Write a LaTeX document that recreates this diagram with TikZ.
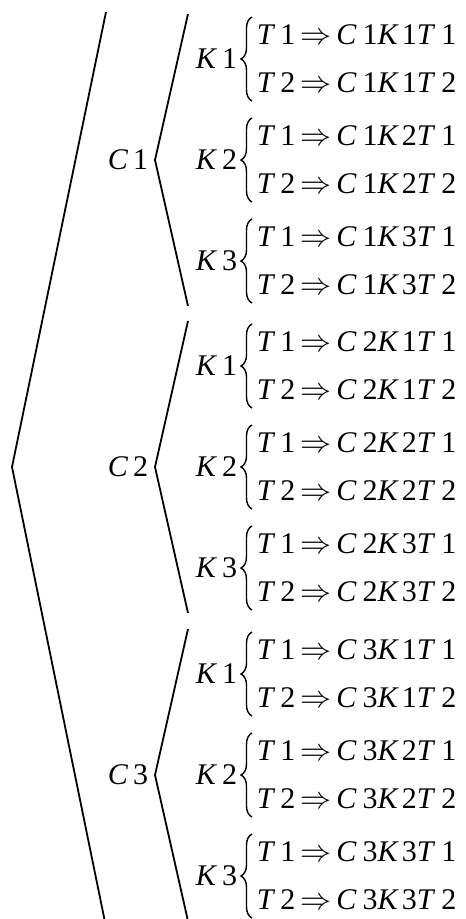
\documentclass[tikz,border=0pt]{standalone}
\usepackage{fontspec}
\setmainfont{Liberation Serif}
\usetikzlibrary{decorations.pathreplacing}
\newcommand\vi[1]{\textit{#1}}
\newcommand\imp{\scalebox{3.1}{\fontsize{10}{12}\selectfont$\Rightarrow$}}
\newcommand\rowtext[3]{\vi{T}\kern5pt#3\kern5pt\imp\kern5pt\vi{C}\kern6pt#1\vi{K}\kern3pt#2\vi{T}\kern6pt#3}
\begin{document}
\begin{tikzpicture}[x=1pt,y=-1pt,
  font=\fontsize{30}{32}\selectfont,
  line width=1.8pt,
  lbl/.style={inner sep=0pt, anchor=east},
  rowtxt/.style={inner sep=0pt, anchor=west},
  brc/.style={decorate, decoration={brace, amplitude=11pt}, line width=1.4pt}]
\useasboundingbox (0,0) rectangle (466,919);
\coordinate (rootTop) at (106,12);
\coordinate (root) at (12,467);
\coordinate (rootBot) at (105,922);
\draw (rootTop) -- (root) -- (rootBot);
\foreach \i/\cy in {1/160,2/467,3/775} {
  \node[lbl] (C\i) at (149,\cy) {\vi{C}\kern5pt\i};
  \coordinate (v\i) at (155,\cy);
  \coordinate (t\i) at (188,{\cy-146});
  \coordinate (b\i) at (188,{\cy+146});
  \draw (t\i) -- (v\i) -- (b\i);
  \foreach \j/\dy in {1/-101,2/0,3/101} {
    \pgfmathsetmacro\ky{\cy+\dy}
    \node[lbl] (K\i\j) at (238,\ky) {\vi{K}\kern5pt\j};
    \coordinate (bt\i\j) at (252,{\ky-42});
    \coordinate (bb\i\j) at (252,{\ky+42});
    \draw[brc] (bb\i\j) -- (bt\i\j);
    \node[rowtxt] (R\i\j a) at (256,{\ky-24}) {\rowtext{\i}{\j}{1}};
    \node[rowtxt] (R\i\j b) at (256,{\ky+24}) {\rowtext{\i}{\j}{2}};
  }
}
\end{tikzpicture}
\end{document}
